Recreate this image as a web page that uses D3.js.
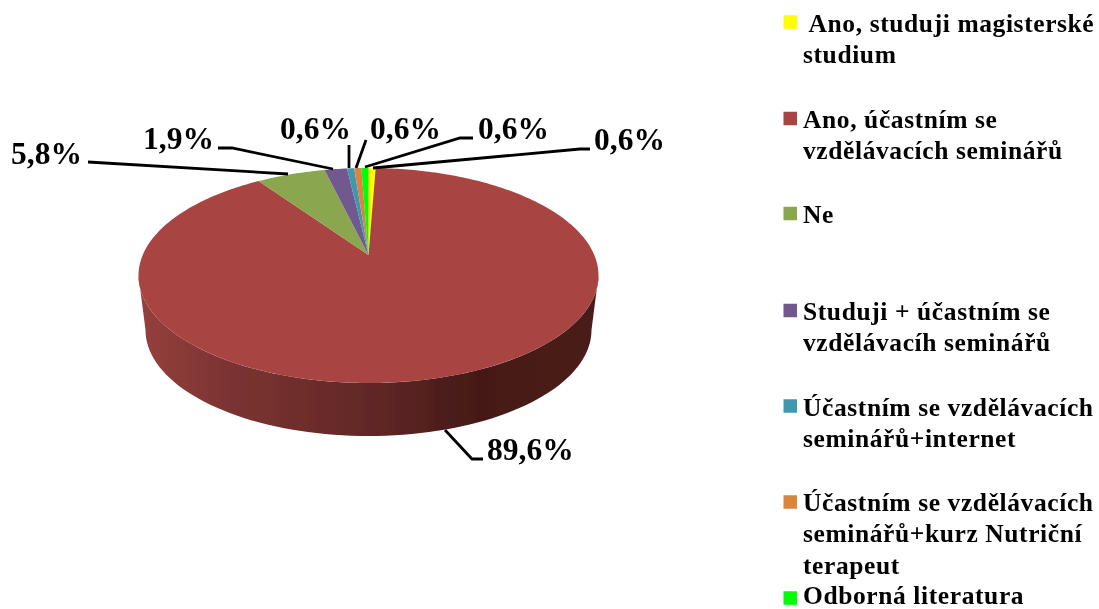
<!DOCTYPE html>
<html><head><meta charset="utf-8">
<script src="https://cdn.jsdelivr.net/npm/d3@7"></script>
<style>html,body{margin:0;background:#fff}svg{display:block}text{font-family:"Liberation Serif",serif;font-weight:bold;fill:#000}</style>
</head><body><div id="c"></div>
<script>
const categories=[" Ano, studuji magisterské studium","Ano, účastním se vzdělávacích seminářů","Ne","Studuji + účastním se vzdělávacíh seminářů","Účastním se vzdělávacích seminářů+internet","Účastním se vzdělávacích seminářů+kurz Nutriční terapeut","Odborná literatura"];
const values=[0.6,89.6,5.8,1.9,0.6,0.6,0.6];
const valueLabels=["0,6%","89,6%","5,8%","1,9%","0,6%","0,6%","0,6%"];
const colors=["#ffff00","#a84542","#8aa64f","#71588f","#4198af","#db843d","#00ff00"];
const legendLines=[[" Ano, studuji magisterské","studium"],["Ano, účastním se","vzdělávacích seminářů"],["Ne"],["Studuji + účastním se","vzdělávacíh seminářů"],["Účastním se vzdělávacích","seminářů+internet"],["Účastním se vzdělávacích","seminářů+kurz Nutriční","terapeut"],["Odborná literatura"]];
const swatchY=[22,118.5,213.5,310.5,406,502,598];
const legendBase=[32,128,223,320,416,511,604];
const labelPos=[[594,149.5],[487,459.5],[11,163.5],[143,148.5],[280,138.5],[370,138.5],[478,138.5]];
const leaderPts=[[[373,168],[580,149],[590,149]],[[445,430],[472,459],[483,459]],[[288,174],[88,162]],[[333,169],[232,148],[218,148]],[[349,168],[349,145]],[[356,168],[366,140]],[[365,167],[460,138],[473,138]]];
const W=1099,H=609;
const svg=d3.select("#c").append("svg").attr("width",W).attr("height",H);
const defs=svg.append("defs");
defs.append("filter").attr("id","soft").append("feGaussianBlur").attr("stdDeviation",0.45);
const grad=defs.append("linearGradient").attr("id","wall").attr("gradientUnits","userSpaceOnUse").attr("x1",139).attr("x2",598).attr("y1",0).attr("y2",0);
[[0,"#95403d"],[0.2,"#7b3331"],[0.5,"#622826"],[0.74,"#451917"],[1,"#4a1e1a"]].forEach(d=>grad.append("stop").attr("offset",d[0]).attr("stop-color",d[1]));
const g=svg.append("g").attr("filter","url(#soft)");
const cx=368.5,cy=275.5,rx=230,ry=107.5,s=0.19;
const botCy=330,botRx=223,botRy=106;
const pie=d3.pie().sort(null).value(d=>d)(values);
function rim(a){const u=Math.sin(a),v=Math.cos(a),d=1+s*v;
 return [cx+rx*u*Math.sqrt(1-s*s)/d, cy-ry*(v+s)/d];}
const apex=[cx,cy-ry*s];
const ell=(c,rX,rY,from,to,n=80)=>d3.range(n+1).map(i=>{const t=from+(to-from)*i/n;return [cx+rX*Math.cos(t),c+rY*Math.sin(t)];});
const wallPts=[...ell(botCy,botRx,botRy,Math.PI,0),...ell(cy,rx,ry,0,Math.PI)];
g.append("path").attr("d",d3.line()(wallPts)+"Z").attr("fill","url(#wall)");
const sliceLine=d3.line();
g.selectAll("path.slice").data(pie).join("path").attr("class","slice")
 .attr("fill",(d,i)=>colors[i])
 .attr("d",d=>{const n=Math.max(2,Math.ceil((d.endAngle-d.startAngle)*60));
  const pts=[apex,...d3.range(n+1).map(i=>rim(d.startAngle+(d.endAngle-d.startAngle)*i/n))];
  return sliceLine(pts)+"Z";});
g.selectAll("path.leader").data(leaderPts).join("path").attr("class","leader").attr("fill","none").attr("stroke","#000").attr("stroke-width",2.8)
 .attr("d",d=>d3.line()(d));
g.selectAll("text.val").data(valueLabels).join("text").attr("class","val")
 .attr("x",(d,i)=>labelPos[i][0]).attr("y",(d,i)=>labelPos[i][1]).attr("font-size",31.5).text(d=>d);
const lg=g.selectAll("g.lg").data(categories).join("g").attr("class","lg");
lg.append("rect").attr("x",783.5).attr("y",(d,i)=>swatchY[i]-6.75).attr("width",13.5).attr("height",13.5).attr("fill",(d,i)=>colors[i]);
lg.each(function(d,i){const t=d3.select(this);legendLines[i].forEach((l,j)=>{
  t.append("text").attr("x",803).attr("y",legendBase[i]+j*31.3).attr("font-size",25.5).attr("letter-spacing",0.6).style("white-space","pre").text(l);});});
</script></body></html>
